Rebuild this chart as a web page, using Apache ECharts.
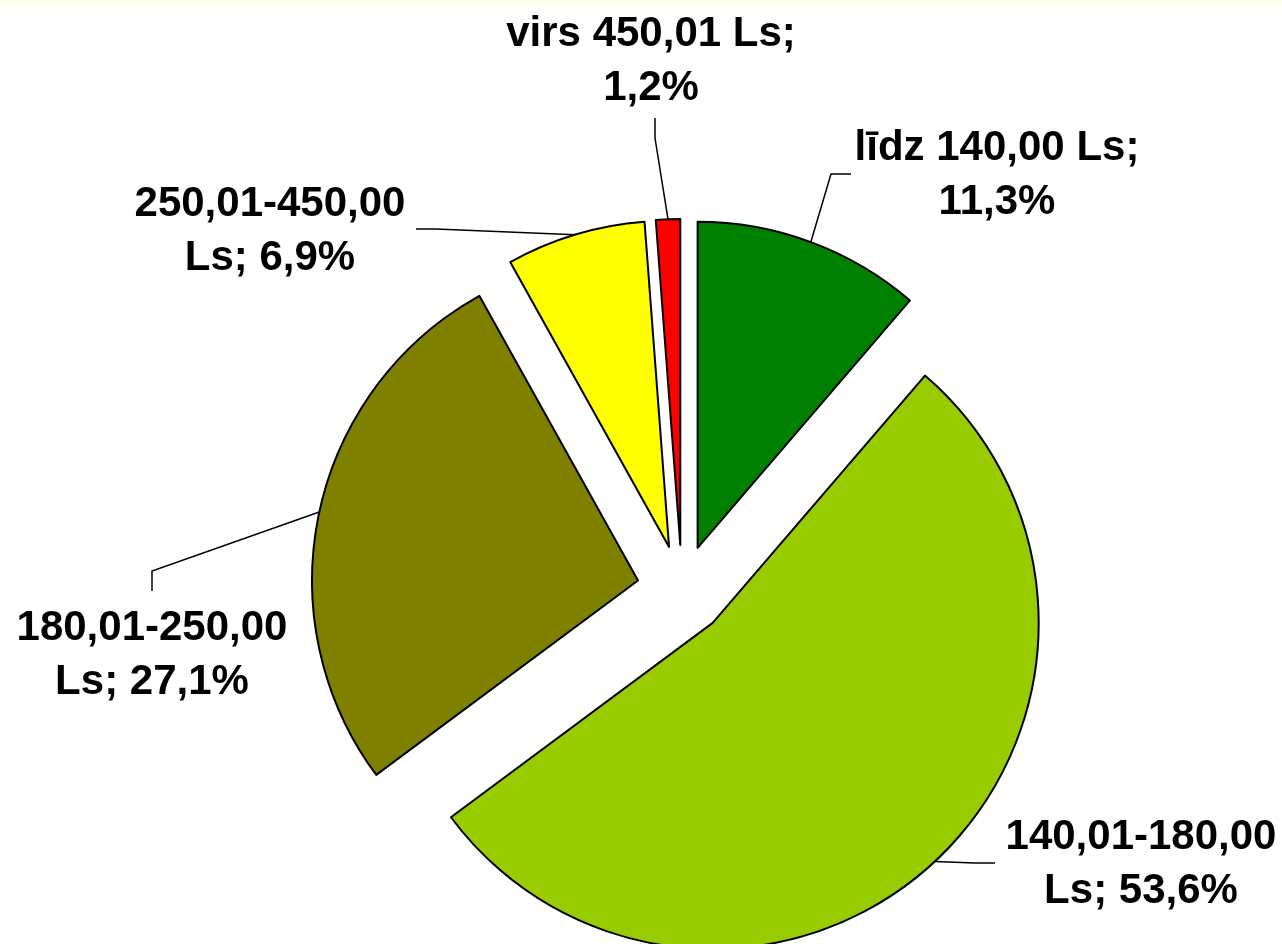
<!DOCTYPE html>
<html>
<head>
<meta charset="utf-8">
<script src="https://cdn.jsdelivr.net/npm/echarts@6/dist/echarts.min.js"></script>
<style>
  html, body { margin: 0; padding: 0; background: #fff; }
  #chart { width: 1282px; height: 944px; }
</style>
</head>
<body>
<div id="chart"></div>
<script>
var categories = ['līdz 140,00 Ls', '140,01-180,00 Ls', '180,01-250,00 Ls', '250,01-450,00 Ls', 'virs 450,01 Ls'];
var shares = [11.3, 53.6, 27.1, 6.9, 1.2];
var sliceColors = ['#008000', '#99cc00', '#808000', '#ffff00', '#ff0000'];

// label centres, and the side the leader line comes in from
var labelSpots = [
  { x: 997, y: 175, side: 'left' },
  { x: 1141, y: 864, side: 'left' },
  { x: 152, y: 655, side: 'top' },
  { x: 270, y: 231, side: 'right' },
  { x: 651, y: 61, side: 'bottom' }
];

var pieCenter = [682, 590];
var pieRadius = 326;
var explode = 45;
var labelFont = 'bold 42px "Liberation Sans", Arial, sans-serif';

var total = 0;
for (var k = 0; k < shares.length; k++) total += shares[k];

// mid angle of slice i, clockwise from 12 o'clock
function midAngle(i) {
  var before = 0;
  for (var k = 0; k < i; k++) before += shares[k];
  return (before + shares[i] / 2) / total * Math.PI * 2;
}

// centre of the exploded slice i
function sliceCenter(i) {
  var a = midAngle(i);
  return [pieCenter[0] + Math.sin(a) * explode, pieCenter[1] - Math.cos(a) * explode];
}

// Excel-like wrapping: keep "name;" on one line if it is narrow enough
var measureCtx = document.createElement('canvas').getContext('2d');
measureCtx.font = labelFont;
function labelText(name, value) {
  var pct = String(value).replace('.', ',') + '%';
  if (measureCtx.measureText(name + ';').width <= 300) {
    return name + ';\n' + pct;
  }
  var cut = name.lastIndexOf(' ');
  return name.slice(0, cut) + '\n' + name.slice(cut + 1) + '; ' + pct;
}

var myChart = echarts.init(document.getElementById('chart'));

// one series per slice so each can be pushed out from the centre on its own
var series = [];
for (var i = 0; i < categories.length; i++) {
  var data = [];
  for (var j = 0; j < categories.length; j++) {
    if (j === i) {
      data.push({ name: categories[j], value: shares[j], itemStyle: { color: sliceColors[j] } });
    } else {
      data.push({
        name: categories[j],
        value: shares[j],
        itemStyle: { color: 'rgba(0,0,0,0)', borderWidth: 0 },
        label: { show: false },
        labelLine: { show: false }
      });
    }
  }
  series.push({
    type: 'pie',
    center: sliceCenter(i),
    radius: pieRadius,
    startAngle: 90,
    clockwise: true,
    avoidLabelOverlap: false,
    emphasis: { disabled: true },
    itemStyle: { borderColor: '#000', borderWidth: 2 },
    label: {
      show: true,
      position: 'outside',
      width: 400,
      overflow: 'none',
      color: '#000',
      fontFamily: '"Liberation Sans", Arial, sans-serif',
      fontWeight: 'bold',
      fontSize: 42,
      lineHeight: 54,
      formatter: function (p) {
        return labelText(p.name, p.value);
      }
    },
    labelLine: {
      show: true,
      length: 10,
      length2: 10,
      lineStyle: { color: '#000', width: 1.5 }
    },
    labelLayout: function (p) {
      var idx = p.dataIndex;
      var s = labelSpots[idx];
      var c = sliceCenter(idx), a = midAngle(idx);
      var start = [c[0] + Math.sin(a) * pieRadius, c[1] - Math.cos(a) * pieRadius];
      var end, knee;
      if (s.side === 'left') {
        end = [s.x - 146, s.y - 1];
        knee = [end[0] - 20, end[1]];
      } else if (s.side === 'right') {
        end = [s.x + 146, s.y - 2];
        knee = [end[0] + 20, end[1]];
      } else if (s.side === 'top') {
        end = [s.x, s.y - 64];
        knee = [end[0], end[1] - 20];
      } else {
        end = [s.x + 4, s.y + 57];
        knee = [end[0], end[1] + 20];
      }
      return {
        x: s.x,
        y: s.y,
        align: 'center',
        verticalAlign: 'middle',
        labelLinePoints: [start, knee, end]
      };
    },
    data: data
  });
}

var option = {
  backgroundColor: '#fff',
  animation: false,
  graphic: [{
    type: 'rect',
    shape: { x: 0, y: 0, width: 1282, height: 14 },
    silent: true,
    style: {
      fill: new echarts.graphic.LinearGradient(0, 0, 0, 1, [
        { offset: 0, color: 'rgba(255,250,205,0.6)' },
        { offset: 1, color: 'rgba(255,255,255,0)' }
      ])
    }
  }],
  series: series
};
myChart.setOption(option);
</script>
</body>
</html>
